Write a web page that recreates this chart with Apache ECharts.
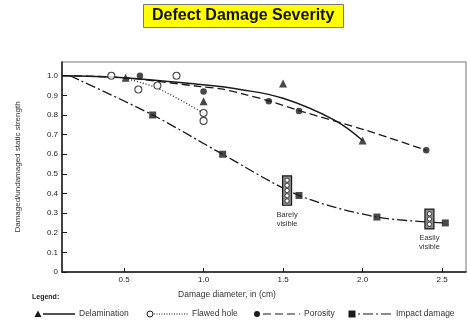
<!DOCTYPE html>
<html><head><meta charset="utf-8">
<script src="https://cdn.jsdelivr.net/npm/echarts@6/dist/echarts.min.js"></script>
<style>html,body{margin:0;padding:0;background:#fff}#c{width:467px;height:322px}</style>
</head><body><div id="c"></div>
<script>
// ---- data ----
const xTicks = [0.5, 1.0, 1.5, 2.0, 2.5];
const yTicks = [0, 0.1, 0.2, 0.3, 0.4, 0.5, 0.6, 0.7, 0.8, 0.9, 1.0];

const delamPoints = [[0.51, 0.99], [1.0, 0.87], [1.5, 0.96], [2.0, 0.67]];
const delamCurve = [[0.11, 1.0], [0.5, 0.99], [0.98, 0.955], [1.23, 0.93], [1.5, 0.885], [1.82, 0.775], [2.0, 0.67]];

const holePoints = [[0.42, 1.0], [0.59, 0.93], [0.71, 0.95], [0.83, 1.0], [1.0, 0.81], [1.0, 0.77]];
const holeCurve = [[0.49, 0.99], [0.7, 0.94], [1.0, 0.81]];

const porosityPoints = [[0.6, 1.0], [1.0, 0.92], [1.41, 0.87], [1.6, 0.82], [2.4, 0.62]];
const porosityCurve = [[0.11, 1.0], [0.5, 0.99], [0.98, 0.945], [1.11, 0.933], [1.24, 0.909], [1.41, 0.872], [1.61, 0.82], [2.03, 0.72], [2.4, 0.62]];

const impactPoints = [[0.68, 0.8], [1.12, 0.6], [1.6, 0.39], [2.09, 0.28], [2.52, 0.25]];
const impactCurve = [[0.16, 1.0], [0.68, 0.8], [1.12, 0.6], [1.6, 0.39], [2.09, 0.28], [2.52, 0.25]];

const visX = [1.525, 2.42];
const visTop = [0.49, 0.32];
const visBottom = [0.34, 0.22];
const visLabels = ['Barely\nvisible', 'Easily\nvisible'];

const legendNames = ['Delamination', 'Flawed hole', 'Porosity', 'Impact damage'];
// ---------------------------------------

const INK = '#1a1a1a';
const FONT = '"Liberation Sans", Arial, sans-serif';
const chart = echarts.init(document.getElementById('c'), null, {renderer: 'canvas'});

const visData = visX.map((x, i) => [x, visTop[i], visBottom[i], visLabels[i]]);

function renderVis(params, api) {
  const x = api.value(0);
  const p1 = api.coord([x, api.value(1)]);
  const p2 = api.coord([x, api.value(2)]);
  const w = 9;
  const h = p2[1] - p1[1];
  const children = [{
    type: 'rect',
    shape: {x: p1[0] - w / 2, y: p1[1], width: w, height: h},
    style: {fill: '#8a8a8a', stroke: INK, lineWidth: 1.2}
  }];
  const step = 5.2;
  const n = Math.floor((h - 1) / step);
  const off = (h - n * step) / 2;
  for (let k = 0; k < n; k++) {
    children.push({
      type: 'circle',
      shape: {cx: p1[0], cy: p1[1] + off + step * (k + 0.5), r: 2.1},
      style: {fill: '#fff', stroke: '#222', lineWidth: 0.8}
    });
  }
  children.push({
    type: 'text',
    style: {
      text: visLabels[params.dataIndex], x: p1[0], y: p2[1] + 5,
      align: 'center', verticalAlign: 'top', fill: '#333',
      font: '7.5px ' + FONT, lineHeight: 9
    }
  });
  return {type: 'group', children};
}

const LY = 314;
const legendGraphics = [
  {type: 'text', left: 32, top: 294, style: {text: 'Legend:', font: 'bold 7px ' + FONT, fill: INK}},
  {type: 'polygon', shape: {points: [[38, LY - 3.5], [34.5, LY + 3], [41.5, LY + 3]]}, style: {fill: INK}},
  {type: 'line', shape: {x1: 43, y1: LY, x2: 75, y2: LY}, style: {stroke: INK, lineWidth: 1.5}},
  {type: 'text', x: 79, y: LY, style: {text: legendNames[0], font: '8.5px ' + FONT, fill: '#333', verticalAlign: 'middle'}},
  {type: 'circle', shape: {cx: 150, cy: LY, r: 3}, style: {fill: '#fff', stroke: INK, lineWidth: 1}},
  {type: 'line', shape: {x1: 154, y1: LY, x2: 188, y2: LY}, style: {stroke: INK, lineWidth: 1, lineDash: [1, 1.5]}},
  {type: 'text', x: 192, y: LY, style: {text: legendNames[1], font: '8.5px ' + FONT, fill: '#333', verticalAlign: 'middle'}},
  {type: 'circle', shape: {cx: 257, cy: LY, r: 3}, style: {fill: INK}},
  {type: 'line', shape: {x1: 263, y1: LY, x2: 300, y2: LY}, style: {stroke: INK, lineWidth: 1.2, lineDash: [8, 4]}},
  {type: 'text', x: 304, y: LY, style: {text: legendNames[2], font: '8.5px ' + FONT, fill: '#333', verticalAlign: 'middle'}},
  {type: 'rect', shape: {x: 348.5, y: LY - 3.5, width: 7, height: 7}, style: {fill: INK}},
  {type: 'line', shape: {x1: 358, y1: LY, x2: 392, y2: LY}, style: {stroke: INK, lineWidth: 1.2, lineDash: [2, 3, 10, 3]}},
  {type: 'text', x: 396, y: LY, style: {text: legendNames[3], font: '8.5px ' + FONT, fill: '#333', verticalAlign: 'middle'}},
  {type: 'text', x: 227, y: 295, style: {text: 'Damage diameter, in (cm)', font: '8.5px ' + FONT, fill: '#333', align: 'center', verticalAlign: 'middle'}}
];

const option = {
  animation: false,
  backgroundColor: '#fff',
  title: {
    text: 'Defect Damage Severity',
    left: 143, top: 4,
    backgroundColor: '#ffff00',
    borderColor: '#777', borderWidth: 1,
    padding: [4, 9, 4, 9],
    textStyle: {fontFamily: FONT, fontSize: 16, fontWeight: 'bold', color: '#111'}
  },
  grid: {left: 62, top: 62, width: 404, height: 210, show: true, borderColor: '#777', borderWidth: 1, backgroundColor: 'transparent'},
  xAxis: {
    type: 'value', min: 0.11, max: 2.65,
    axisLine: {lineStyle: {color: INK, width: 1.5}},
    axisTick: {inside: true, length: 4, customValues: xTicks, lineStyle: {color: INK}},
    axisLabel: {customValues: xTicks, formatter: v => v.toFixed(1), fontSize: 8, color: '#222', fontFamily: FONT, margin: 4},
    splitLine: {show: false}
  },
  yAxis: {
    type: 'value', min: 0, max: 1.07,
    name: 'Damaged/undamaged static strength',
    nameLocation: 'middle', nameGap: 40, nameRotate: 90,
    nameTextStyle: {fontSize: 8, color: '#333', fontFamily: FONT},
    axisLine: {lineStyle: {color: INK, width: 1.5}},
    axisTick: {inside: true, length: 5, customValues: yTicks, lineStyle: {color: INK}},
    axisLabel: {customValues: yTicks, formatter: v => v === 0 ? '0' : v.toFixed(1), fontSize: 8, color: '#222', fontFamily: FONT, margin: 4},
    splitLine: {show: false}
  },
  graphic: legendGraphics,
  series: [
    {type: 'line', data: delamCurve, smooth: 0.4, showSymbol: false, lineStyle: {color: INK, width: 1.5}, z: 2},
    {type: 'line', data: holeCurve, smooth: 0.3, showSymbol: false, lineStyle: {color: INK, width: 1.2, type: [1, 2]}, z: 2},
    {type: 'line', data: porosityCurve, smooth: 0.3, showSymbol: false, lineStyle: {color: INK, width: 1.3, type: [8, 4]}, z: 2},
    {type: 'line', data: impactCurve, smooth: 0.3, showSymbol: false, lineStyle: {color: INK, width: 1.3, type: [10, 3, 2, 3]}, z: 2},
    {type: 'scatter', data: delamPoints, symbol: 'triangle', symbolSize: 8, itemStyle: {color: INK}, z: 4},
    {type: 'scatter', data: holePoints, symbol: 'circle', symbolSize: 7, itemStyle: {color: '#fff', borderColor: INK, borderWidth: 1.1}, z: 4},
    {type: 'scatter', data: porosityPoints, symbol: 'circle', symbolSize: 6.5, itemStyle: {color: INK}, z: 4},
    {type: 'scatter', data: impactPoints, symbol: 'rect', symbolSize: 7, itemStyle: {color: INK}, z: 4},
    {type: 'custom', data: visData, renderItem: renderVis, z: 5}
  ]
};
chart.setOption(option);
</script>
</body></html>
